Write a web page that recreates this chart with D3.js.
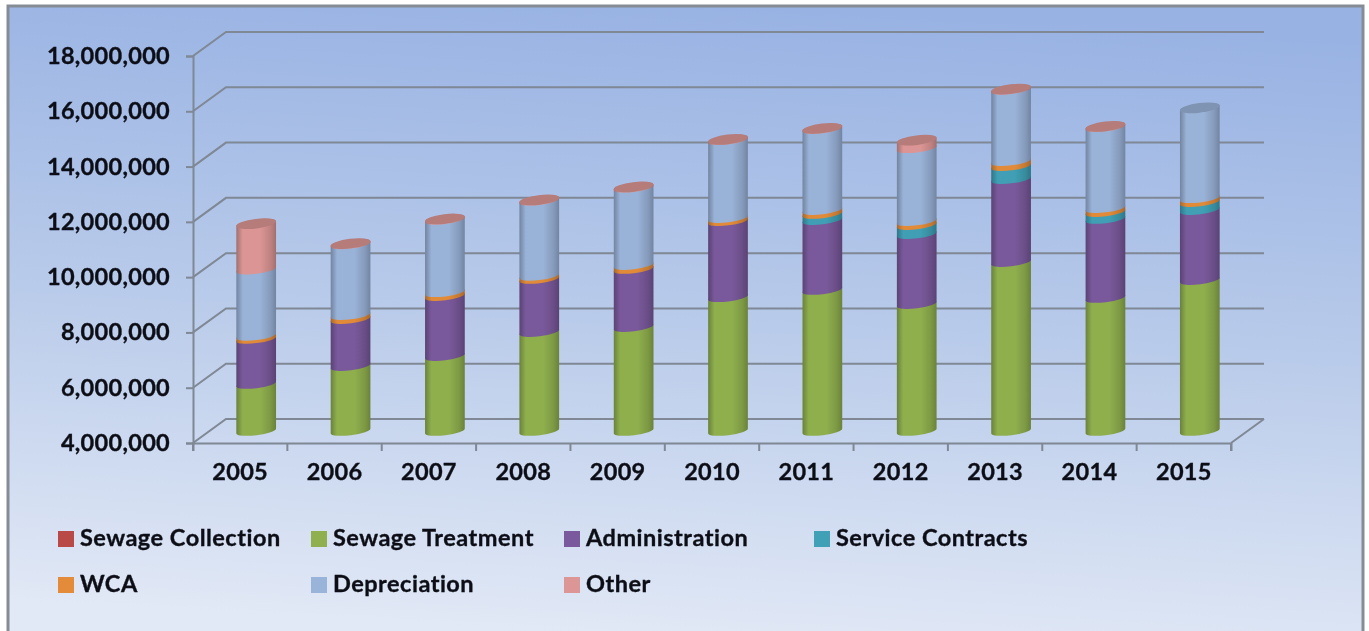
<!DOCTYPE html>
<html><head><meta charset="utf-8">
<script src="https://cdn.jsdelivr.net/npm/d3@7"></script>
<style>html,body{margin:0;padding:0;background:#fff;overflow:hidden}svg{display:block}text{font-family:Lato,sans-serif;font-weight:700;fill:#0c0f18;font-variant-ligatures:none;letter-spacing:.5px;stroke:#0c0f18;stroke-width:.35px}.tick text{letter-spacing:.3px}</style>
</head><body><svg id="c" width="1369" height="631"></svg>
<script>
const years=["2005","2006","2007","2008","2009","2010","2011","2012","2013","2014","2015"];
const sewageCollection=[0,0,0,0,0,0,0,0,0,0,0];
const sewageTreatment=[5.70,6.35,6.71,7.58,7.76,8.84,9.10,8.59,10.11,8.81,9.46];
const administration=[1.63,1.70,2.17,1.92,2.10,2.75,2.53,2.53,3.00,2.86,2.53];
const serviceContracts=[0,0,0,0,0,0,0.22,0.33,0.47,0.25,0.29];
const wca=[0.11,0.14,0.14,0.11,0.14,0.11,0.14,0.14,0.18,0.14,0.14];
const depreciation=[2.40,2.56,2.62,2.72,2.80,2.82,2.93,2.64,2.58,2.93,3.27];
const other=[1.66,0.03,0.03,0.03,0.03,0.03,0.03,0.29,0.03,0.03,0];
const seriesNames=["Sewage Collection","Sewage Treatment","Administration","Service Contracts","WCA","Depreciation","Other"];
const seriesValues=[sewageCollection,sewageTreatment,administration,serviceContracts,wca,depreciation,other];
const seriesColors=["#b84a47","#90b04f","#7a5a9c","#3fa0b5","#e38b38","#9ab3d9","#dc9695"];
const yTicks=[4,6,8,10,12,14,16,18];
const legendCols=[58,311,564,814], legendRows=[539,585];

const svg=d3.select("#c"), W=1369,H=631;
const defs=svg.append("defs");
const bg=defs.append("linearGradient").attr("id","bg").attr("x1","0.56").attr("y1","0").attr("x2","0.44").attr("y2","1");
[[0,"#98b2e3"],[0.5,"#b9cbea"],[1,"#e2e9f6"]].forEach(s=>bg.append("stop").attr("offset",s[0]).attr("stop-color",s[1]));
const blur=defs.append("filter").attr("id","soft").attr("x","-5%").attr("y","-5%").attr("width","110%").attr("height","110%");
blur.append("feGaussianBlur").attr("stdDeviation",0.55);
seriesColors.forEach((c,i)=>{
  const g=defs.append("linearGradient").attr("id","cyl"+i);
  const d=d3.color(c).darker(0.85).formatHex(), m=d3.color(c).darker(0.02).formatHex();
  [[0,d],[0.16,m],[0.6,m],[0.86,d3.color(c).darker(0.4).formatHex()],[1,d]].forEach(s=>g.append("stop").attr("offset",s[0]).attr("stop-color",s[1]));
});
svg.append("rect").attr("x",8).attr("y",6).attr("width",1355).attr("height",635).attr("fill","url(#bg)").attr("stroke","#868c94").attr("stroke-width",3);

const root=svg.append("g").attr("filter","url(#soft)");
const y=d3.scaleLinear().domain([4,18]).range([443,56]);
const x=d3.scaleBand().domain(years).range([193,1231]);
const dx=33,dy=-24,grid="#7f8894";
const gridG=root.append("g").attr("fill","none").attr("stroke",grid).attr("stroke-width",2);
yTicks.forEach(t=>{
  gridG.append("path").attr("d",d3.line()([[193,y(t)],[193+dx,y(t)+dy],[1231+dx,y(t)+dy]]));
});
gridG.append("path").attr("d",d3.line()([[1231,y(4)],[1231+dx,y(4)+dy]]));

const yAxis=d3.axisLeft(y).tickValues(yTicks).tickSize(7).tickPadding(16).tickFormat(d=>d3.format(",")(d*1e6));
const xAxis=d3.axisBottom(x).tickSize(8).tickPadding(12);
const xTickVals=x.domain().map(d=>x(d)).concat(1231);
const ya=root.append("g").attr("transform","translate(193,0)").call(yAxis);
const xa=root.append("g").attr("transform","translate(0,443)").call(xAxis);
xa.selectAll(".tick line").remove();
xa.append("g").selectAll("line").data(xTickVals).join("line").attr("x1",d=>d).attr("x2",d=>d).attr("y1",0).attr("y2",8);
root.selectAll(".domain,.tick line,g line").attr("stroke",grid).attr("stroke-width",2);
root.selectAll(".tick text").attr("fill","#0c0f18").style("font-size","23.5px").attr("font-family","Lato");

// stack
const rows=years.map((yr,i)=>{const o={year:yr};seriesNames.forEach((n,j)=>o[n]=seriesValues[j][i]);return o;});
const stacked=d3.stack().keys(seriesNames)(rows);
const rx=20,ry=4.2,tilt=7,sin=Math.sin(tilt*Math.PI/180),cos=Math.cos(tilt*Math.PI/180);
const px=d=>x(d)+x.bandwidth()/2+dx/2-0.5, py=v=>y(v)+dy/2;
const bars=root.append("g");
stacked.forEach((layer,si)=>{
  layer.forEach(seg=>{
    const yr=seg.data.year, v0=seg[0],v1=seg[1];
    if(v1-v0<=0)return;
    const base=si===1?4:v0;
    const cx=px(yr),b=py(base),t=py(v1);
    const lx=cx-rx*cos,rX=cx+rx*cos;
    const p=`M${lx},${t+rx*sin}A${rx},${ry} ${-tilt} 0 1 ${rX},${t-rx*sin}L${rX},${b-rx*sin}A${rx},${ry} ${-tilt} 0 1 ${lx},${b+rx*sin}Z`;
    bars.append("path").attr("d",p).attr("fill",`url(#cyl${si})`);
  });
});
// top caps
rows.forEach((r,i)=>{
  const topIdx=d3.range(seriesNames.length).filter(j=>seriesValues[j][i]>0).pop();
  const total=stacked[stacked.length-1][i][1];
  bars.append("ellipse").attr("cx",0).attr("cy",0).attr("rx",rx).attr("ry",ry+0.6)
    .attr("transform",`translate(${px(r.year)},${py(total)}) rotate(${-tilt})`)
    .attr("fill",d3.color(seriesColors[topIdx]).darker(0.55).formatHex());
});
// legend
const order=[[0,0],[1,0],[2,0],[3,0],[0,1],[1,1],[2,1]];
const lg=root.append("g");
seriesNames.forEach((n,i)=>{
  const lx=legendCols[order[i][0]],ly=legendRows[order[i][1]];
  lg.append("rect").attr("x",lx).attr("y",ly-8).attr("width",16).attr("height",16).attr("fill",seriesColors[i]);
  lg.append("text").attr("x",lx+22).attr("y",ly+7).style("font-size","23.5px").text(n);
});
</script></body></html>
